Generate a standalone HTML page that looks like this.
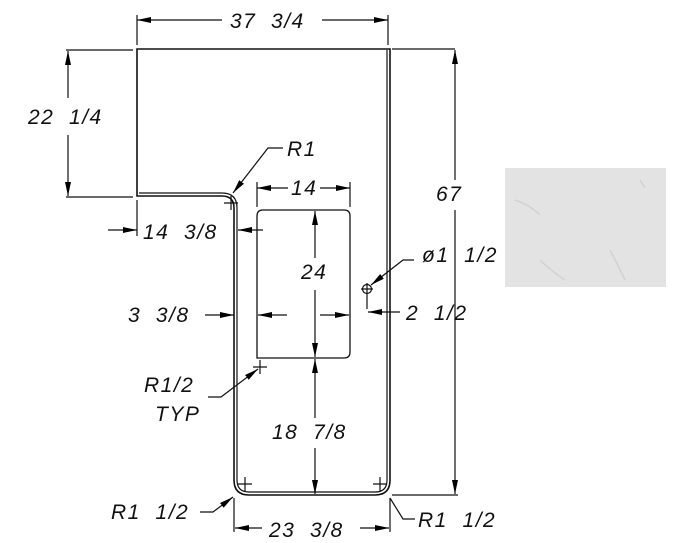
<!DOCTYPE html>
<html><head><meta charset="utf-8"><style>
html,body{margin:0;padding:0;background:#fff;}
svg{display:block}
text{font-family:"Liberation Sans",sans-serif;font-style:italic;font-size:21px;fill:#111;letter-spacing:1.5px;white-space:pre}
</style></head><body>
<svg width="689" height="543" viewBox="0 0 689 543" xmlns="http://www.w3.org/2000/svg">
<defs>
<marker id="a" viewBox="0 0 14 6" refX="14" refY="3" markerWidth="14" markerHeight="6" orient="auto-start-reverse" markerUnits="userSpaceOnUse"><path d="M0,0 L14,3 L0,6 Z" fill="#000"/></marker>
</defs>
<rect x="505" y="168" width="161" height="119" fill="#e3e3e3"/>
<path d="M515,200 q15,5 25,15 M540,260 q10,10 25,20 M610,250 q8,15 15,30 M640,180 l5,8" stroke="#d2d2d2" stroke-width="1.5" fill="none"/>
<g stroke="#111" fill="none" stroke-width="1.6">
<path d="M137,49 H390 V480 Q390,495 375,495 H249 Q234,495 234,480 V208 Q234,196 222,196 H137 Z"/>
<path d="M139,193 H222 Q237,193 237,208 V480 Q237,492 249,492 H375 Q387,492 387,480 V50" stroke-width="1.2"/>
<path d="M257,216 Q257,210 263,210 H344 Q350,210 350,216 V352 Q350,358 344,358 H257 Z" stroke-width="1.3"/>
</g>
<g stroke="#111" fill="none" stroke-width="1.2">
<path d="M224,203 h14 M231,196 v14 M253,367 h14 M260,360 v14 M238,484 h14 M245,477 v14 M373,484 h14 M380,477 v14"/>
<circle cx="367" cy="289" r="4.5"/><path d="M361,289 h12 M367,283 v14 M367,297 v12"/>
<path d="M137,15 V45 M388,15 V45"/>
<path d="M222,20 H137" marker-end="url(#a)"/><path d="M322,20 H388" marker-end="url(#a)"/>
<path d="M392,49 H455 M392,495 H458"/>
<path d="M455,180 V50" marker-end="url(#a)"/><path d="M455,210 V494" marker-end="url(#a)"/>
<path d="M66,50 H133 M66,197 H133"/>
<path d="M68,98 V51" marker-end="url(#a)"/><path d="M68,135 V196" marker-end="url(#a)"/>
<path d="M137,200 V236"/>
<path d="M108,230 H137" marker-end="url(#a)"/><path d="M263,230 H238" marker-end="url(#a)"/>
<path d="M257,182 V207 M350,182 V207"/>
<path d="M288,188 H257" marker-end="url(#a)"/><path d="M320,188 H350" marker-end="url(#a)"/>
<path d="M315,258 V211" marker-end="url(#a)"/><path d="M315,290 V357" marker-end="url(#a)"/>
<path d="M205,315 H234" marker-end="url(#a)"/><path d="M287,315 H258" marker-end="url(#a)"/>
<path d="M320,315 H349" marker-end="url(#a)"/>
<path d="M400,312 H368" marker-end="url(#a)"/>
<path d="M315,418 V359" marker-end="url(#a)"/><path d="M315,448 V494" marker-end="url(#a)"/>
<path d="M234,498 V532 M390,498 V532"/>
<path d="M262,528 H235" marker-end="url(#a)"/><path d="M360,528 H389" marker-end="url(#a)"/>
<path d="M283,148 H268 L233,193" marker-end="url(#a)"/>
<path d="M414,260 H403 L371,285" marker-end="url(#a)"/>
<path d="M208,397 H221 L258,369" marker-end="url(#a)"/>
<path d="M200,512 H213 L233,497" marker-end="url(#a)"/>
<path d="M415,519 H403 L390,498"/>
</g>
<text x="230" y="28">37  3/4</text>
<text x="28" y="124">22  1/4</text>
<text x="287" y="156">R1</text>
<text x="436" y="201">67</text>
<text x="143" y="239">14  3/8</text>
<text x="291" y="195">14</text>
<text x="301" y="279">24</text>
<text x="422" y="262">ø1  1/2</text>
<text x="128" y="322">3  3/8</text>
<text x="406" y="320">2  1/2</text>
<text x="144" y="392">R1/2</text>
<text x="155" y="421">TYP</text>
<text x="272" y="439">18  7/8</text>
<text x="111" y="519">R1  1/2</text>
<text x="418" y="527">R1  1/2</text>
<text x="269" y="537">23  3/8</text>
</svg>
</body></html>
